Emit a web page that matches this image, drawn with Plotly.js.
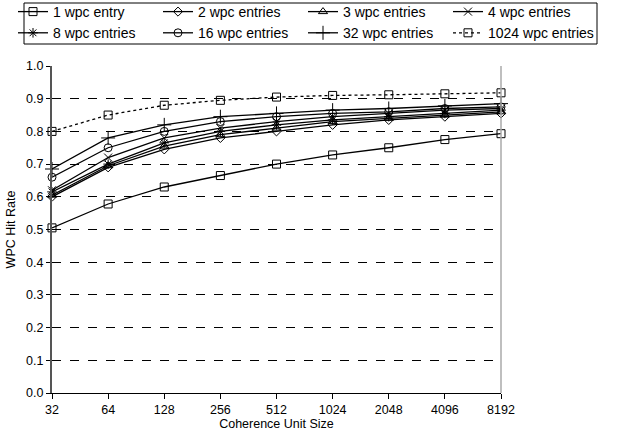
<!DOCTYPE html>
<html><head><meta charset="utf-8">
<script src="https://cdn.plot.ly/plotly-3.0.1.min.js"></script>
<style>html,body{margin:0;padding:0;background:#fff}#chart{width:634px;height:437px}</style>
</head><body><div id="chart"></div>
<script>
const categories = ["32","64","128","256","512","1024","2048","4096","8192"];
const seriesNames = ["1 wpc entry","2 wpc entries","3 wpc entries","4 wpc entries","8 wpc entries","16 wpc entries","32 wpc entries","1024 wpc entries"];
const wpc1    = [0.505,0.578,0.630,0.665,0.700,0.728,0.750,0.775,0.793];
const wpc2    = [0.600,0.690,0.745,0.780,0.800,0.820,0.835,0.845,0.855];
const wpc3    = [0.605,0.695,0.755,0.790,0.810,0.830,0.840,0.850,0.860];
const wpc4    = [0.620,0.720,0.780,0.810,0.830,0.845,0.855,0.865,0.870];
const wpc8    = [0.615,0.700,0.765,0.800,0.820,0.835,0.845,0.855,0.865];
const wpc16   = [0.660,0.750,0.800,0.830,0.845,0.855,0.860,0.870,0.875];
const wpc32   = [0.685,0.780,0.820,0.845,0.855,0.865,0.870,0.878,0.885];
const wpc1024 = [0.800,0.850,0.880,0.895,0.905,0.910,0.912,0.915,0.918];
const yTicks = [0,0.1,0.2,0.3,0.4,0.5,0.6,0.7,0.8,0.9,1.0];
const yTickText = ["0.0","0.1","0.2","0.3","0.4","0.5","0.6","0.7","0.8","0.9","1.0"];

const allSeries = [wpc1,wpc2,wpc3,wpc4,wpc8,wpc16,wpc32,wpc1024];
const symbols = ["square-open","diamond-open","triangle-up-open","x-thin-open","asterisk-open","circle-open","cross-thin-open","square-open"];
const sizes = [8,7,8,8,8,8,10,8];
const legendIds = ["legend","legend2","legend3","legend4","legend","legend2","legend3","legend4"];
const traces = allSeries.map((ys,i)=>({
  type:"scatter", mode:"lines+markers", name:seriesNames[i],
  x:categories, y:ys, legend:legendIds[i],
  line:{color:"#000", width:1.3, dash: i===7 ? "dot" : "solid"},
  marker:{symbol:symbols[i], size:sizes[i], color:"#000", line:{color:"#000", width:1}},
  cliponaxis:false
}));

const fam = "Liberation Sans, Arial, sans-serif";
// plot area: 52..501 px wide (449), 66..393 px tall (327)
const px = v => (v - 52) / 449;
const py = v => (393 - v) / 327;
const legBase = x => ({orientation:"v", x:px(x), xanchor:"left", y:py(-4), yanchor:"top",
  borderwidth:0, bgcolor:"rgba(0,0,0,0)", font:{size:14, family:fam},
  itemwidth:30, traceorder:"normal", tracegroupgap:0});
const layout = {
  width:634, height:437,
  margin:{l:52, r:133, t:66, b:44, autoexpand:false},
  paper_bgcolor:"#fff", plot_bgcolor:"#fff",
  font:{family:fam, size:13, color:"#000"},
  showlegend:true,
  legend:legBase(13), legend2:legBase(158), legend3:legBase(303), legend4:legBase(448),
  xaxis:{type:"category", range:[0,8], showgrid:false, zeroline:false,
    showline:true, linecolor:"#000", linewidth:1,
    ticks:"outside", ticklen:5, tickcolor:"#000", tickfont:{family:fam, size:12.5},
    title:{text:"Coherence Unit Size", standoff:1, font:{family:fam, size:12.5}}},
  yaxis:{range:[0,1], tickvals:yTicks, ticktext:yTickText,
    showgrid:true, gridcolor:"#000", griddash:"dash", gridwidth:1,
    zeroline:false, showline:true, linecolor:"#555", linewidth:2,
    ticks:"outside", ticklen:4, tickcolor:"#000", tickfont:{family:fam, size:12.5},
    title:{text:"WPC Hit Rate", standoff:8, font:{family:fam, size:12.5}}},
  shapes:[
    {type:"line", xref:"paper", yref:"paper", x0:1, x1:1, y0:0, y1:1,
     line:{color:"#aaa", width:1.5}},
    {type:"rect", xref:"paper", yref:"paper", x0:px(24), x1:px(597), y0:py(44), y1:py(3),
     line:{color:"#000", width:1}, fillcolor:"rgba(0,0,0,0)"}
  ]
};
Plotly.newPlot("chart", traces, layout, {displayModeBar:false, staticPlot:true});
</script></body></html>
